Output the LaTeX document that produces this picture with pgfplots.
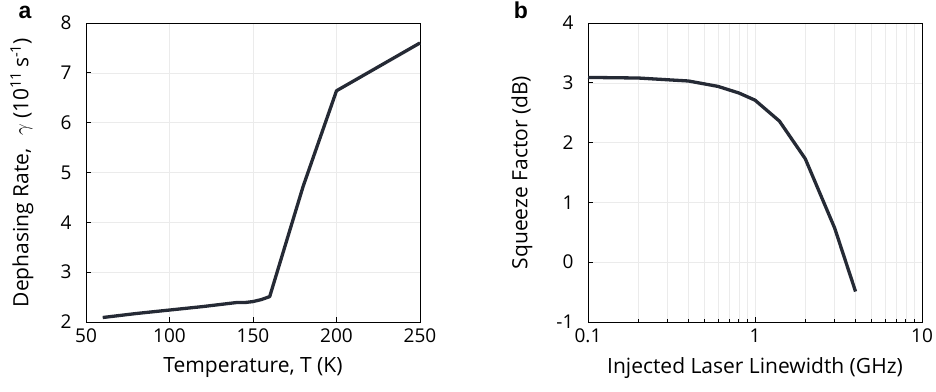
\documentclass[border=0pt]{standalone}
\usepackage{fontspec}
\setmainfont{Open Sans}
\newfontfamily\panelfont{Liberation Sans}
\usepackage{pgfplots}
\pgfplotsset{compat=1.18}
\definecolor{linec}{HTML}{252A35}
\definecolor{gridc}{HTML}{EBEBEB}
\begin{document}
\begin{tikzpicture}
\pgfplotsset{
  common/.style={
    scale only axis, width=334pt, height=299pt,
    anchor=south west,
    axis line style={black, line width=1pt},
    tick style={black, line width=0.8pt},
    tick pos=left, tick align=inside,
    major tick length=5pt, minor tick length=3pt,
    grid style={gridc, line width=0.6pt},
    ymajorgrids, xmajorgrids,
    tick label style={font=\fontsize{19}{22}\selectfont},
    xticklabel style={yshift=-3pt},
    yticklabel style={xshift=-11pt},
    label style={font=\fontsize{21}{25}\selectfont},
    xlabel style={at={(axis description cs:0.5,0)}, anchor=north, yshift=-32pt},
    /pgf/number format/assume math mode=true,
    clip=false,
  }
}
\begin{axis}[common, at={(86pt,69pt)},
  xmin=50, xmax=250, ymin=2, ymax=8,
  xtick={50,100,...,250}, ytick={2,3,...,8},
  xlabel={Temperature, T (K)},
  ylabel={Dephasing Rate,\,\, $\gamma$ (10\textsuperscript{11}\,s\textsuperscript{-1})},
  ylabel style={at={(axis description cs:-0.192,0.5)}, anchor=center},
]
\addplot[linec, line width=3.3pt, line join=round] coordinates {
(60,2.09) (80,2.17) (100,2.24) (120,2.31) (140,2.39) (145,2.39) (150,2.41) (155,2.45) (160,2.51) (180,4.72) (200,6.64) (250,7.6)
};
\end{axis}
\node[anchor=center, font=\panelfont\fontsize{23}{26}\selectfont\bfseries] at (25pt,379pt) {a};
\begin{axis}[common, at={(588pt,69pt)},
  xmode=log, xmin=0.1, xmax=10, ymin=-1, ymax=4,
  xtick={0.1,1,10}, xticklabels={0.1,1,10},
  ytick={-1,0,...,4}, yticklabels={-1,0,1,2,3,4},
  minor xtick={0.2,0.3,0.4,0.5,0.6,0.7,0.8,0.9,2,3,4,5,6,7,8,9},
  xminorgrids, minor grid style={gridc, line width=0.6pt},
  xlabel={Injected Laser Linewidth (GHz)},
  ylabel={Squeeze Factor (dB)},
  ylabel style={at={(axis description cs:-0.198,0.5)}, anchor=center},
]
\addplot[linec, line width=3.3pt, line join=round] coordinates {
(0.1,3.09) (0.2,3.08) (0.4,3.03) (0.6,2.94) (0.8,2.83) (1.0,2.71) (1.4,2.36) (2.0,1.73) (3.0,0.57) (4.0,-0.49)
};
\end{axis}
\node[anchor=center, font=\panelfont\fontsize{23}{26}\selectfont\bfseries] at (521pt,381pt) {b};
\pgfresetboundingbox
\useasboundingbox (0,0) rectangle (936pt,391pt);
\end{tikzpicture}
\end{document}
